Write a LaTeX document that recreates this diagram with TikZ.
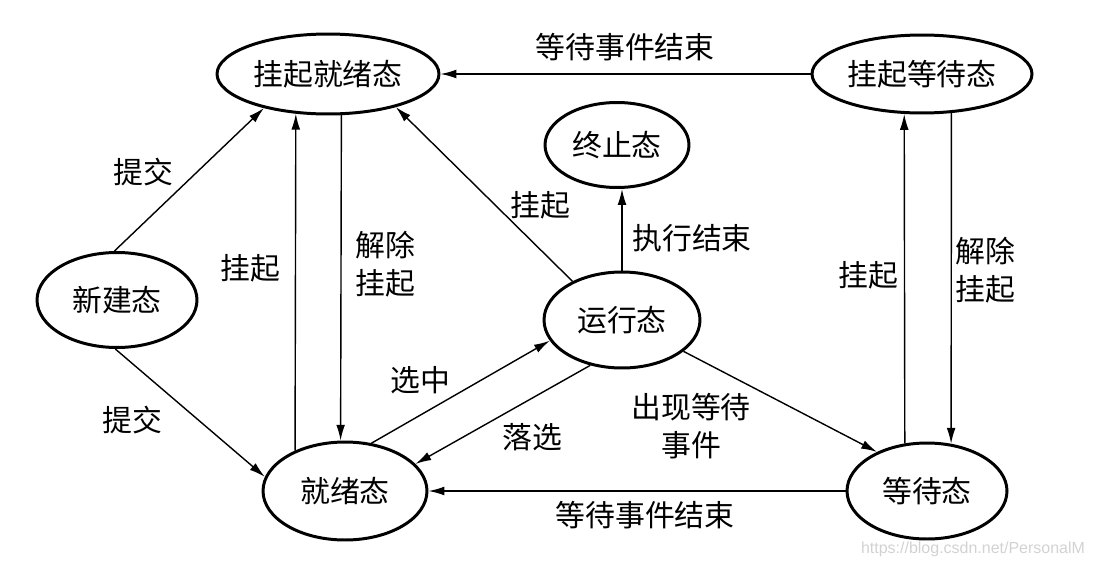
\documentclass[tikz,border=0pt]{standalone}
\usepackage{fontspec}
\setmainfont{Liberation Sans}
\newfontfamily\cjk{Noto Sans CJK SC}
\usepackage{tikz}
\usetikzlibrary{arrows.meta,positioning,shapes.geometric}
\usepackage{xcolor}
\definecolor{markgray}{RGB}{210,210,210}
\tikzset{
  st/.style={ellipse,draw=black,line width=1.7pt,inner sep=0pt,
             font=\cjk\fontsize{17}{20}\selectfont},
  ge/.style={-{Latex[length=9pt,width=5pt]},line width=0.8pt},
  lbl/.style={font=\cjk\fontsize{17}{21.5}\selectfont,align=center,inner sep=1pt},
}

\begin{document}
\begin{tikzpicture}[x=0.02cm,y=-0.02cm]
    \useasboundingbox (0,0) rectangle (1094,568);
    % states
    \node[st,minimum width=4.44cm,minimum height=1.6cm] (sr) at (328,74) {挂起就绪态};
    \node[st,minimum width=4.4cm,minimum height=1.56cm] (sw) at (922,74) {挂起等待态};
    \node[st,minimum width=3.2cm,minimum height=1.9cm] (new) at (117,300) {新建态};
    \node[st,minimum width=3.12cm,minimum height=1.92cm] (run) at (622,320) {运行态};
    \node[st,minimum width=2.88cm,minimum height=1.7cm] (term) at (617,145) {终止态};
    \node[st,minimum width=3.28cm,minimum height=1.96cm] (rdy) at (345,491) {就绪态};
    \node[st,minimum width=3.2cm,minimum height=1.92cm] (wait) at (927,491) {等待态};
    % transitions
    \draw[ge] (new.93) -- (sr.208);
    \draw[ge] (new.268) -- (rdy.170);
    \draw[ge] (rdy.141) -- (sr.231);
    \draw[ge] (sr.288) -- (rdy.95);
    \draw[ge] (run.142) -- (sr.334);
    \draw[ge] (run.north) -- (run.north |- term.south);
    \draw[ge] (rdy.61) -- (run.196);
    \draw[ge] (run.235) -- (rdy.21);
    \draw[ge] (run.333) -- (wait.142);
    \draw[ge] (wait.west) -- (rdy.east);
    \draw[ge] (sw.west) -- (sr.east);
    \draw[ge] (wait.115) -- (sw.246);
    \draw[ge] (sw.307) -- (wait.63);
    % labels
    \node[lbl] (l1) at (143,172) {提交};
    \node[lbl] (l2) at (132,420) {提交};
    \node[lbl] (l3) at (250,268) {挂起};
    \node[lbl] (l4) at (385,264) {解除\\挂起};
    \node[lbl] (l5) at (540,205) {挂起};
    \node[lbl] (l6) at (692,238) {执行结束};
    \node[lbl] (l7) at (420,380) {选中};
    \node[lbl] (l8) at (532,437) {落选};
    \node[lbl] (l9) at (691,426) {出现等待\\事件};
    \node[lbl] (l10) at (645,515) {等待事件结束};
    \node[lbl] (l11) at (625,47) {等待事件结束};
    \node[lbl] (l12) at (868,275) {挂起};
    \node[lbl] (l13) at (985,270) {解除\\挂起};
    \node[text=markgray,font=\fontsize{9.1}{11}\selectfont,inner sep=0pt] (mark) at (973,549) {https://blog.csdn.net/PersonalM};
\end{tikzpicture}
\end{document}
